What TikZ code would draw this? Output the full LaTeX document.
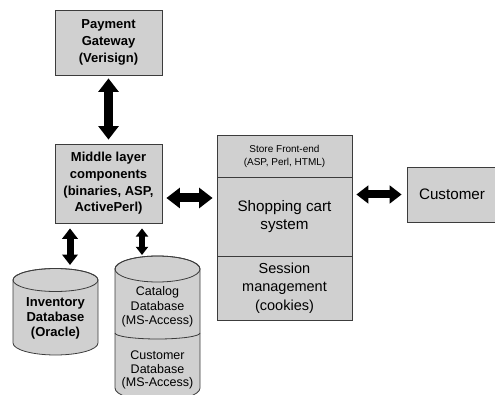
\documentclass[tikz,border=0pt]{standalone}
\usepackage{fontspec}
\setmainfont{Liberation Sans}
\usetikzlibrary{arrows.meta}
\definecolor{relleno}{RGB}{208,208,208}
\definecolor{borde}{RGB}{60,60,60}
\begin{document}
\begin{tikzpicture}[
      x=1pt, y=1pt,
      caja/.style={draw=borde, fill=relleno, line width=0.8pt, align=center, inner sep=0pt},
      cilindro/.style={draw=borde, fill=relleno, line width=0.8pt},
      texto/.style={align=center, inner sep=0pt},
      negrita/.style={font=\fontsize{13}{16.7}\selectfont\bfseries},
      flecha/.style={<->, >={Triangle[width=0pt 2.2, length=0pt 1.5]},
                     line width=#1, shorten <=4pt, shorten >=4pt}
    ]
    \useasboundingbox (0,0) rectangle (495,394);

    % cajas de la izquierda
    \node[caja, negrita, minimum width=107, minimum height=65] (pay) at (108.5,351.5)
      {Payment\\ Gateway\\ (Verisign)};
    \node[caja, negrita, minimum width=107, minimum height=79] (mid) at (108.5,210.5)
      {Middle layer\\ components\\ (binaries, ASP,\\ ActivePerl)};

    % bloque de la tienda
    \node[caja, font=\fontsize{10}{13}\selectfont, minimum width=135, minimum height=42]
      (front) at (284.5,238) {Store Front-end\\ (ASP, Perl, HTML)};
    \node[caja, font=\fontsize{15.2}{18.5}\selectfont, minimum width=135, minimum height=79]
      (cart) at (284.5,177.5) {Shopping cart\\ system};
    \node[caja, font=\fontsize{14.5}{18.5}\selectfont, minimum width=135, minimum height=64]
      (sess) at (284.5,106) {Session\\ management\\ (cookies)};
    \node[caja, font=\fontsize{15.2}{18}\selectfont, minimum width=90, minimum height=55]
      (cust) at (452,199.5) {Customer};

    % bases de datos
    \filldraw[cilindro] (13,114) -- (13,51)
      arc[start angle=180, end angle=360, x radius=42.5, y radius=12] -- (98,114)
      arc[start angle=0, end angle=180, x radius=42.5, y radius=11.5] -- cycle;
    \draw[borde, line width=0.8pt] (55.5,114) ellipse[x radius=42.5, y radius=11.5];
    \node[texto, negrita, font=\fontsize{13}{15}\selectfont\bfseries] (inv) at (55.5,76)
      {Inventory\\ Database\\ (Oracle)};

    \filldraw[cilindro] (115,125) -- (115,6)
      arc[start angle=180, end angle=360, x radius=42.5, y radius=13] -- (200,125)
      arc[start angle=0, end angle=180, x radius=42.5, y radius=13] -- cycle;
    \draw[borde, line width=0.8pt] (157.5,125) ellipse[x radius=42.5, y radius=13];
    \draw[borde, line width=0.8pt] (115,61)
      arc[start angle=180, end angle=360, x radius=42.5, y radius=6];
    \node[texto, font=\fontsize{12.5}{14.3}\selectfont] (cat) at (157.5,87)
      {Catalog\\ Database\\ (MS-Access)};
    \node[texto, font=\fontsize{12.5}{13.7}\selectfont] (custdb) at (157.5,24)
      {Customer\\ Database\\ (MS-Access)};
    \coordinate (invtop) at (70,125);
    \coordinate (cattop) at (142,138);

    % flechas
    \draw[flecha=9pt, shorten <=3pt] (pay.south) -- (mid.north);
    \draw[flecha=9pt] ([yshift=-14.5pt]mid.east) -- ([yshift=-14.5pt]mid.east -| cart.west);
    \draw[flecha=8pt, shorten >=5pt] (cust.west -| cart.east) -- (cust.west);
    \draw[flecha=7pt, shorten <=5pt] (mid.south -| invtop) -- (invtop);
    \draw[flecha=5.5pt, shorten <=5pt, shorten >=1pt] (mid.south -| cattop) -- (cattop);
  \end{tikzpicture}
\end{document}
